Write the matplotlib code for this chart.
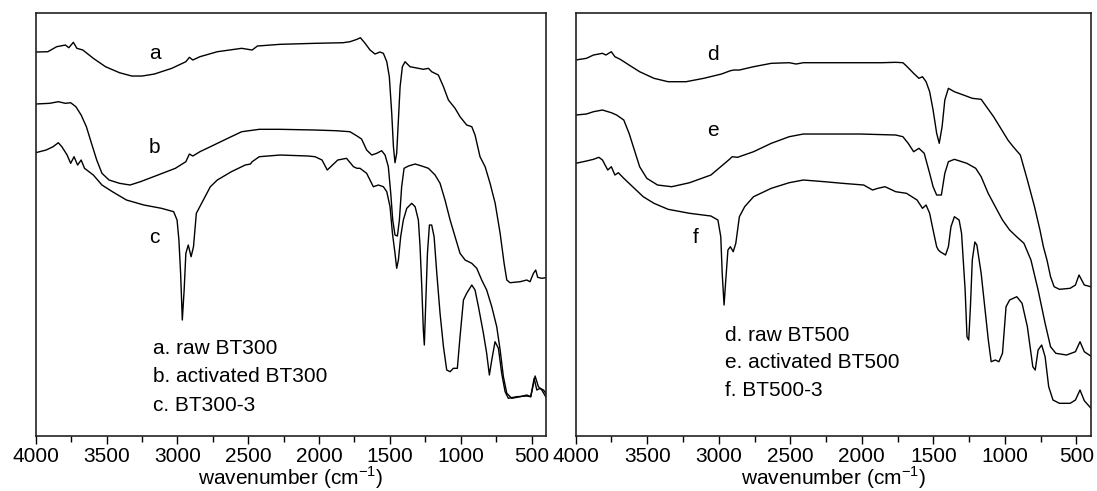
import matplotlib.pyplot as plt
from matplotlib.ticker import MultipleLocator

plt.rcParams['font.family'] = ['Liberation Sans', 'DejaVu Sans']
plt.rcParams['mathtext.fontset'] = 'custom'
plt.rcParams['mathtext.rm'] = 'Liberation Sans'

# 读图得到的光谱点 (波数 cm-1, 相对透过率)
spec_a = [(4000, 384), (3914, 384.3), (3852, 389.3), (3790, 391), (3766, 388.3), (3734, 393.7),
          (3709, 387.7), (3667, 386), (3593, 377.7), (3507, 369.3), (3408, 363.3), (3322, 360),
          (3248, 360), (3162, 362), (3039, 367.7), (2940, 374.3), (2915, 378.7), (2891, 376),
          (2841, 379.3), (2718, 384.3), (2546, 387.7), (2472, 386), (2435, 390), (2274, 391.7),
          (2028, 392.7), (1831, 393.3), (1782, 394.3), (1732, 396.7), (1708, 398.3), (1675, 392.7),
          (1640, 386), (1605, 382), (1570, 384), (1546, 382.7), (1522, 374.3), (1504, 359.3),
          (1487, 322.7), (1475, 289.3), (1464, 273.3), (1452, 282.7), (1440, 316), (1428, 349.3),
          (1412, 369.3), (1393, 374.3), (1358, 369.3), (1299, 367.7), (1264, 366.7), (1228, 367.7),
          (1205, 364.3), (1158, 361), (1122, 349.3), (1087, 336), (1040, 327.7), (1005, 319.3),
          (958, 311), (922, 309.3), (899, 301), (864, 279.3), (828, 269.3), (793, 252.7),
          (757, 232.7), (722, 202.7), (694, 172.7), (675, 156), (652, 153.3), (581, 154.3),
          (534, 156), (511, 154.3), (487, 162.7), (471, 166), (457, 158.7), (428, 157.7), (400, 158.3)]

spec_b = [(4000, 332), (3901, 332.7), (3840, 334.3), (3790, 332.7), (3753, 333.3), (3716, 329.3),
          (3679, 321), (3642, 309.3), (3606, 292.7), (3569, 276), (3532, 262.7), (3482, 256),
          (3408, 252.7), (3334, 251), (3261, 254.3), (3137, 261), (3014, 267.7), (2940, 274.3),
          (2915, 282), (2891, 280), (2841, 284.3), (2767, 289.3), (2644, 297.7), (2546, 304.3),
          (2422, 306.7), (2274, 306.7), (2028, 306), (1880, 305.3), (1782, 304.3), (1732, 300),
          (1700, 297), (1664, 286), (1628, 281), (1593, 282.7), (1558, 285.3), (1534, 281),
          (1511, 269.3), (1494, 242.7), (1480, 216), (1464, 201), (1447, 200), (1433, 216),
          (1417, 249.3), (1400, 267.7), (1369, 270), (1322, 272), (1275, 270), (1228, 267.7),
          (1181, 261), (1146, 252.7), (1111, 236), (1075, 216), (1040, 199.3), (1005, 182.7),
          (969, 176), (922, 172.7), (887, 167.7), (852, 156), (817, 146), (781, 129.3),
          (746, 109.3), (722, 86), (699, 59.3), (675, 42.7), (640, 37.7), (581, 39.3),
          (534, 41), (506, 39.3), (482, 57.7), (463, 46), (440, 47.7), (416, 46), (400, 42.7)]

spec_c = [(4000, 283.3), (3926, 286), (3877, 289.3), (3840, 293.3), (3815, 289.3), (3778, 281),
          (3753, 272.7), (3729, 279.3), (3704, 271), (3679, 276), (3655, 267.7), (3593, 261),
          (3532, 251), (3458, 244.3), (3359, 236), (3236, 231), (3112, 227.7), (3026, 224.3),
          (3002, 216), (2989, 196), (2977, 162.7), (2965, 116), (2952, 146), (2940, 182.7),
          (2923, 191), (2903, 179.3), (2886, 189.3), (2866, 222.7), (2829, 232.7), (2767, 249.3),
          (2718, 256), (2619, 264.3), (2521, 271), (2484, 272), (2472, 274.3), (2422, 279.3),
          (2274, 281), (2077, 280), (2028, 279.3), (1979, 276), (1942, 266), (1905, 271),
          (1868, 276), (1806, 277.7), (1757, 269.3), (1732, 267.7), (1711, 267.7), (1664, 262.7),
          (1617, 249.3), (1581, 251), (1546, 249.3), (1522, 244.3), (1499, 229.3), (1482, 202.7),
          (1464, 182.7), (1452, 167.7), (1440, 176), (1424, 199.3), (1405, 216), (1381, 227.7),
          (1346, 232.7), (1322, 229.3), (1299, 216), (1287, 189.3), (1275, 149.3), (1264, 106),
          (1257, 91), (1247, 132.7), (1235, 182.7), (1221, 211), (1205, 211), (1188, 199.3),
          (1169, 162.7), (1146, 122.7), (1122, 89.3), (1099, 66), (1075, 64.3), (1052, 67.7),
          (1024, 67.7), (1005, 99.3), (981, 136), (958, 142.7), (922, 151), (899, 146),
          (875, 129.3), (840, 102.7), (817, 82.7), (798, 61), (781, 76), (758, 94.3),
          (734, 87.7), (711, 62.7), (687, 44.3), (664, 37.7), (605, 39.3), (534, 40),
          (506, 39.3), (475, 60), (452, 49.3), (428, 46), (400, 39.3)]

spec_d = [(4000, 376), (3925, 377.7), (3876, 381), (3813, 382.7), (3789, 381), (3751, 384.3),
          (3726, 379.3), (3689, 376.7), (3627, 371), (3553, 364.3), (3453, 357.7), (3354, 354.3),
          (3229, 354.3), (3105, 357.7), (2981, 362), (2919, 365.3), (2894, 366), (2856, 366),
          (2757, 369.3), (2633, 372.7), (2508, 373.3), (2459, 372), (2409, 373.3), (2260, 373.3),
          (2011, 373.3), (1862, 373.3), (1763, 373.7), (1713, 373.3), (1688, 370), (1638, 362.7),
          (1601, 357.7), (1576, 359.3), (1551, 354.3), (1526, 344.3), (1502, 326), (1477, 302.7),
          (1459, 292.7), (1439, 309.3), (1420, 336), (1395, 347.7), (1353, 344.3), (1290, 341),
          (1228, 337.7), (1166, 336.7), (1129, 329.3), (1079, 319.3), (1029, 307.7), (979, 296),
          (942, 289.3), (892, 281), (843, 256), (793, 229.3), (755, 206), (731, 189.3),
          (706, 176), (681, 159.3), (656, 149.3), (619, 146.7), (544, 147.7), (507, 151),
          (482, 161), (445, 151), (400, 149.3)]

spec_e = [(4000, 321), (3925, 322), (3876, 324.3), (3813, 326), (3751, 323.3), (3714, 321),
          (3664, 316), (3627, 302.7), (3590, 286), (3553, 269.3), (3503, 257.7), (3428, 251),
          (3329, 249.3), (3204, 253.3), (3055, 261), (2931, 276), (2906, 279.3), (2869, 278.7),
          (2757, 284.3), (2633, 292.7), (2508, 299.3), (2409, 302), (2260, 302), (2011, 302),
          (1763, 301), (1713, 299.3), (1676, 292.7), (1638, 284.3), (1601, 287.7), (1564, 282.7),
          (1526, 262.7), (1502, 249.3), (1477, 241), (1444, 241), (1420, 262.7), (1395, 274.3),
          (1353, 276.7), (1266, 272.7), (1204, 267.7), (1166, 259.3), (1117, 242.7), (1067, 229.3),
          (1017, 216), (967, 206), (918, 199.3), (867, 192.7), (818, 176), (768, 146),
          (719, 112.7), (681, 89.3), (644, 82.7), (569, 81), (507, 84.3), (475, 94.3),
          (445, 84.3), (400, 80)]

spec_f = [(4000, 272.7), (3925, 275), (3876, 276.7), (3838, 278.7), (3813, 276), (3776, 266),
          (3751, 269.3), (3726, 261), (3702, 263.3), (3664, 257.7), (3602, 249.3), (3528, 239.3),
          (3453, 232.7), (3354, 226.7), (3204, 222.7), (3055, 220), (3006, 216), (2986, 199.3),
          (2976, 162.7), (2963, 131), (2951, 156), (2936, 186), (2919, 189.3), (2899, 184.3),
          (2881, 192.7), (2856, 219.3), (2819, 229.3), (2757, 239.3), (2633, 247.7), (2508, 253.3),
          (2409, 256), (2260, 254.3), (2136, 252.7), (1987, 251), (1925, 246), (1888, 247.7),
          (1838, 249.3), (1763, 244.3), (1688, 242.7), (1614, 236), (1576, 227.7), (1551, 231),
          (1526, 222.7), (1502, 206), (1477, 189.3), (1465, 186), (1452, 184.3), (1415, 181),
          (1395, 189.3), (1377, 209.3), (1353, 219.3), (1320, 216), (1303, 202.7), (1278, 146),
          (1265, 99.3), (1253, 96), (1241, 129.3), (1228, 176), (1210, 194), (1196, 191),
          (1166, 162.7), (1141, 129.3), (1116, 96), (1096, 74.3), (1067, 76), (1042, 74.3),
          (1017, 82.7), (992, 129.3), (967, 136), (917, 139.3), (880, 132.7), (843, 109.3),
          (805, 69.3), (788, 66), (768, 86), (743, 91), (719, 79.3), (694, 49.3),
          (664, 36), (619, 32.7), (544, 32.7), (507, 36), (475, 46), (445, 35.3), (400, 28)]

# 曲线旁的字母标记 (字母, 波数, 纵坐标)
tags_left = [('a', 3160, 383), ('b', 3160, 289), ('c', 3160, 199)]
tags_right = [('d', 3040, 382), ('e', 3040, 306), ('f', 3160, 199)]
names_left = ['a. raw BT300', 'b. activated BT300', 'c. BT300-3']
names_right = ['d. raw BT500', 'e. activated BT500', 'f. BT500-3']
xticks = [4000, 3500, 3000, 2500, 2000, 1500, 1000, 500]


def draw_panel(ax, specs, tags, names, name_x, name_y, gap):
    for spec in specs:
        wn, t = zip(*spec)
        ax.plot(wn, t, color='black', lw=1.0)
    for s, x, y in tags:
        ax.text(x, y, s, fontsize=15, ha='center', va='center')
    for i, s in enumerate(names):
        ax.text(name_x, name_y - i * gap, s, fontsize=15, ha='left', va='center')
    ax.set_xlim(4000, 400)
    ax.set_ylim(0, 423.5)
    ax.set_xticks(xticks)
    ax.xaxis.set_minor_locator(MultipleLocator(250))
    ax.set_yticks([])
    ax.tick_params(axis='x', which='major', direction='out', length=6, width=1,
                   labelsize=15, pad=2)
    ax.tick_params(axis='x', which='minor', direction='out', length=4.5, width=1)
    for sp in ax.spines.values():
        sp.set_linewidth(1.2)
        sp.set_color('#222222')
    ax.set_xlabel(r'wavenumber (cm$^{\mathregular{-1}}$)', fontsize=15, labelpad=-1)


fig = plt.figure(figsize=(10.97, 4.91), dpi=100)
ax1 = fig.add_axes([0.0325, 0.112, 0.465, 0.8625])
ax2 = fig.add_axes([0.5248, 0.112, 0.4695, 0.8625])

draw_panel(ax1, [spec_a, spec_b, spec_c], tags_left, names_left, 3175, 88, 28.5)
draw_panel(ax2, [spec_d, spec_e, spec_f], tags_right, names_right, 2955, 101, 27.5)

fig.savefig('out.png', dpi=100)
